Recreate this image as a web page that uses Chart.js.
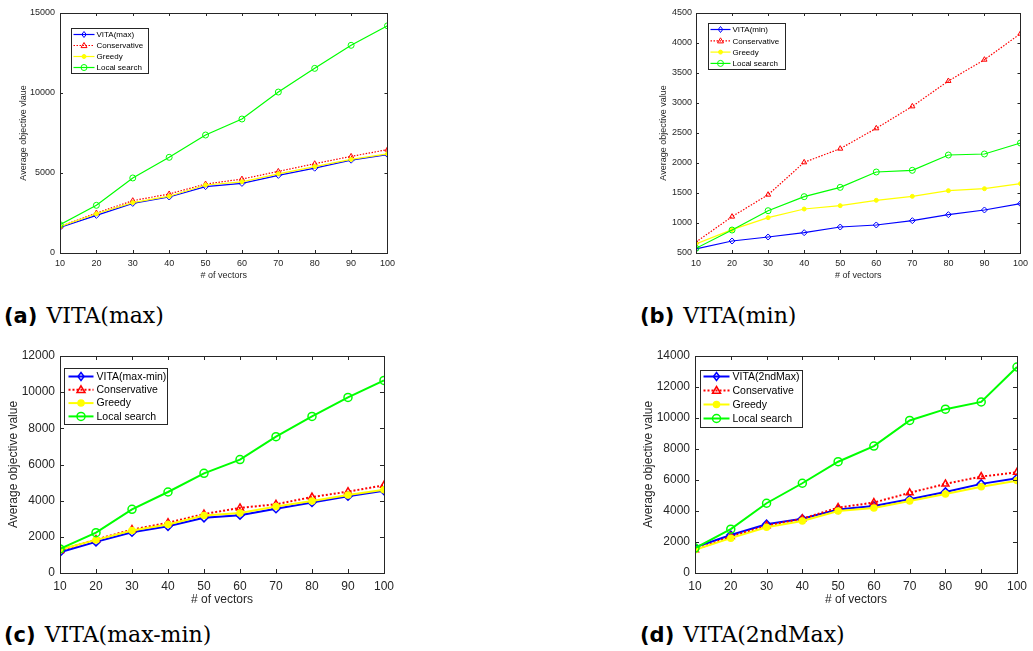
<!DOCTYPE html>
<html>
<head>
<meta charset="utf-8">
<script src="https://cdn.jsdelivr.net/npm/chart.js@4.4.1/dist/chart.umd.min.js"></script>
<style>
  body { margin: 0; background: #fff; width: 1033px; height: 651px; position: relative; overflow: hidden; }
  .panel { position: absolute; }
  .cap { position: absolute; font-family: "DejaVu Serif", serif; font-size: 22px; color: #000; white-space: nowrap; line-height: 1; }
  .cap b { font-family: "DejaVu Sans", sans-serif; font-weight: bold; font-size: 21px; margin-right: 9px; }
</style>
</head>
<body>
<div class="panel" style="left:0;top:0;width:400px;height:290px"><canvas id="chartMax"></canvas></div>
<div class="panel" style="left:630px;top:0;width:403px;height:290px"><canvas id="chartMin"></canvas></div>
<div class="panel" style="left:0;top:330px;width:400px;height:290px"><canvas id="chartMaxMin"></canvas></div>
<div class="panel" style="left:630px;top:330px;width:403px;height:290px"><canvas id="chart2ndMax"></canvas></div>
<div class="cap" style="left:4px;top:305px"><b>(a)</b>VITA(max)</div>
<div class="cap" style="left:640px;top:305px"><b>(b)</b>VITA(min)</div>
<div class="cap" style="left:4px;top:624px"><b>(c)</b>VITA(max-min)</div>
<div class="cap" style="left:640px;top:624px"><b>(d)</b>VITA(2ndMax)</div>
<script>
// numero de vectores (eje x)
const vectorCounts = [10, 20, 30, 40, 50, 60, 70, 80, 90, 100];
const seriesNames = ['Conservative', 'Greedy', 'Local search'];

// (a) VITA(max)
const maxVita         = [1600, 2350, 3100, 3500, 4150, 4350, 4850, 5300, 5800, 6150];
const maxConservative = [1650, 2500, 3270, 3690, 4310, 4620, 5100, 5580, 6040, 6460];
const maxGreedy       = [1650, 2450, 3150, 3550, 4250, 4450, 4950, 5400, 5850, 6200];
const maxLocal        = [1770, 2980, 4690, 5980, 7375, 8375, 10060, 11540, 12980, 14200];

// (b) VITA(min)
const minVita         = [570, 700, 767, 839, 933, 967, 1039, 1139, 1217, 1322];
const minConservative = [683, 1106, 1472, 2011, 2239, 2578, 2944, 3367, 3722, 4156];
const minGreedy       = [650, 889, 1089, 1233, 1289, 1378, 1444, 1539, 1572, 1656];
const minLocal        = [578, 883, 1205, 1439, 1594, 1850, 1878, 2133, 2150, 2333];

// (c) VITA(max-min)
const maxMinVita         = [1150, 1720, 2250, 2580, 3050, 3200, 3550, 3900, 4250, 4550];
const maxMinConservative = [1250, 1850, 2400, 2780, 3260, 3600, 3800, 4200, 4500, 4850];
const maxMinGreedy       = [1300, 1830, 2350, 2680, 3180, 3320, 3680, 3980, 4310, 4610];
const maxMinLocal        = [1330, 2230, 3520, 4480, 5510, 6270, 7540, 8660, 9710, 10650];

// (d) VITA(2ndMax)
const secondMaxVita         = [1650, 2450, 3150, 3500, 4100, 4330, 4760, 5230, 5750, 6110];
const secondMaxConservative = [1500, 2350, 3050, 3500, 4220, 4545, 5170, 5750, 6220, 6500];
const secondMaxGreedy       = [1500, 2250, 2950, 3350, 4000, 4200, 4650, 5100, 5570, 5960];
const secondMaxLocal        = [1610, 2830, 4500, 5790, 7180, 8190, 9840, 10570, 11040, 13290];

Chart.defaults.font.family = '"Liberation Sans", Arial, sans-serif';
Chart.defaults.color = '#262626';

const AXIS = '#262626';

function toPoints(values) {
    return vectorCounts.map((x, i) => ({ x: x, y: values[i] }));
}

// marcador propio para la leyenda
function drawMarker(ctx, style, r, x, y, stroke, fill, lw) {
    ctx.save();
    ctx.setLineDash([]);
    ctx.lineWidth = lw;
    ctx.strokeStyle = stroke;
    ctx.fillStyle = fill;
    ctx.beginPath();
    if (style === 'rectRot') {
        ctx.moveTo(x, y - r); ctx.lineTo(x + r * 0.75, y); ctx.lineTo(x, y + r); ctx.lineTo(x - r * 0.75, y); ctx.closePath();
    } else if (style === 'triangle') {
        ctx.moveTo(x, y - r); ctx.lineTo(x + r, y + r * 0.7); ctx.lineTo(x - r, y + r * 0.7); ctx.closePath();
    } else {
        ctx.arc(x, y, r, 0, Math.PI * 2);
    }
    ctx.fill();
    ctx.stroke();
    ctx.restore();
}

// caja, marcas hacia dentro y leyenda estilo MATLAB
const matlabBox = {
    id: 'matlabBox',
    afterDraw(chart, args, opts) {
        const ctx = chart.ctx;
        const a = chart.chartArea;
        const tl = opts.tickLen;
        ctx.save();
        ctx.strokeStyle = AXIS;
        ctx.lineWidth = 1;
        ctx.strokeRect(Math.round(a.left) + 0.5, Math.round(a.top) + 0.5, Math.round(a.right - a.left), Math.round(a.bottom - a.top));
        ctx.beginPath();
        const xs = chart.scales.x, ys = chart.scales.y;
        xs.ticks.forEach((t, i) => {
            const px = Math.round(xs.getPixelForTick(i)) + 0.5;
            ctx.moveTo(px, a.bottom); ctx.lineTo(px, a.bottom - tl);
            ctx.moveTo(px, a.top); ctx.lineTo(px, a.top + tl);
        });
        ys.ticks.forEach((t, i) => {
            const py = Math.round(ys.getPixelForTick(i)) + 0.5;
            ctx.moveTo(a.left, py); ctx.lineTo(a.left + tl, py);
            ctx.moveTo(a.right, py); ctx.lineTo(a.right - tl, py);
        });
        ctx.stroke();

        // leyenda
        const lg = opts.legend;
        const bx = Math.round(a.left + lg.dx) + 0.5, by = Math.round(a.top + lg.dy) + 0.5;
        ctx.fillStyle = '#fff';
        ctx.fillRect(bx, by, lg.w, lg.h);
        ctx.strokeStyle = AXIS;
        ctx.lineWidth = 1;
        ctx.strokeRect(bx, by, lg.w, lg.h);
        ctx.font = lg.fontSize + 'px "Liberation Sans", Arial, sans-serif';
        ctx.textBaseline = 'middle';
        chart.data.datasets.forEach((ds, i) => {
            const y = by + lg.row0 + i * lg.pitch;
            const x0 = bx + lg.lineX0, x1 = bx + lg.lineX1;
            ctx.save();
            ctx.strokeStyle = ds.borderColor;
            ctx.lineWidth = ds.borderWidth;
            ctx.setLineDash(ds.borderDash || []);
            ctx.beginPath();
            ctx.moveTo(x0, y); ctx.lineTo(x1, y);
            ctx.stroke();
            ctx.restore();
            drawMarker(ctx, ds.pointStyle, ds.pointRadius, (x0 + x1) / 2, y, ds.pointBorderColor, ds.pointBackgroundColor, ds.pointBorderWidth);
            ctx.fillStyle = '#000';
            ctx.fillText(ds.label, bx + lg.textX, y + 0.5);
        });
        ctx.restore();
    }
};

function buildDatasets(vitaLabel, vita, conservative, greedy, local, big) {
    const lw = big ? 2 : 1.2;
    const r = big ? 4 : 3;
    const values = [vita, conservative, greedy, local];
    const labels = [vitaLabel].concat(seriesNames);
    const colors = ['#0000ff', '#ff0000', '#ffff00', '#00ff00'];
    const styles = ['rectRot', 'triangle', 'circle', 'circle'];
    return values.map((v, i) => ({
        label: labels[i],
        data: toPoints(v),
        borderColor: colors[i],
        borderWidth: lw,
        borderDash: i === 1 ? (big ? [2, 2] : [1.5, 1.5]) : [],
        pointStyle: styles[i],
        pointRadius: i === 2 ? r - 1 : r,
        pointBorderColor: colors[i],
        pointBackgroundColor: i === 2 ? colors[i] : 'rgba(0,0,0,0)',
        pointBorderWidth: big ? 1.5 : 1,
        order: 4 - i,
        tension: 0
    }));
}

function makePanel(id, datasets, p) {
    new Chart(document.getElementById(id), {
        type: 'line',
        data: { datasets: datasets },
        options: {
            responsive: true,
            maintainAspectRatio: false,
            animation: false,
            layout: { padding: { left: p.padLeft, right: p.padRight, top: p.padTop, bottom: p.padBottom } },
            plugins: {
                legend: { display: false },
                tooltip: { enabled: false },
                matlabBox: { tickLen: p.tickLen, legend: p.legend }
            },
            scales: {
                x: {
                    type: 'linear',
                    min: 10, max: 100,
                    grid: { display: false, drawTicks: false },
                    border: { display: false },
                    ticks: { stepSize: 10, padding: p.xTickPad, font: { size: p.tickSize }, color: AXIS, maxRotation: 0,
                             callback: v => String(v) },
                    title: { display: true, text: '# of vectors', font: { size: p.titleSize }, color: AXIS, padding: 0 },
                    afterFit(s) { s.height = p.xAxisH; }
                },
                y: {
                    min: p.yMin, max: p.yMax,
                    grid: { display: false, drawTicks: false },
                    border: { display: false },
                    ticks: { stepSize: p.yStep, padding: p.yTickPad, font: { size: p.tickSize }, color: AXIS,
                             callback: v => String(v) },
                    title: { display: true, text: p.yTitle, font: { size: p.titleSize }, color: AXIS, padding: 0 },
                    afterFit(s) { s.width = p.yAxisW; }
                }
            }
        },
        plugins: [matlabBox]
    });
}

const smallLegendA = { dx: 11, dy: 15, w: 77, h: 45, row0: 6, pitch: 11, lineX0: 2, lineX1: 23, textX: 25, fontSize: 8 };
const smallLegendB = { dx: 12, dy: 10, w: 77, h: 46, row0: 6, pitch: 11.3, lineX0: 2, lineX1: 22, textX: 24, fontSize: 8 };
const bigLegendC = { dx: 4, dy: 12, w: 103, h: 56, row0: 8, pitch: 13.3, lineX0: 4, lineX1: 29, textX: 32, fontSize: 10.5 };
const bigLegendD = { dx: 5, dy: 14, w: 102, h: 57, row0: 6, pitch: 14, lineX0: 3, lineX1: 29, textX: 32, fontSize: 10.5 };

makePanel('chartMax', buildDatasets('VITA(max)', maxVita, maxConservative, maxGreedy, maxLocal, false), {
    padLeft: 18, padRight: 12, padTop: 13, padBottom: 9, yAxisW: 42, xAxisH: 28,
    yMin: 0, yMax: 15000, yStep: 5000, yTitle: 'Average objective vlaue',
    tickSize: 9, titleSize: 9, xTickPad: 5, yTickPad: 5, tickLen: 3, legend: smallLegendA
});
makePanel('chartMin', buildDatasets('VITA(min)', minVita, minConservative, minGreedy, minLocal, false), {
    padLeft: 28, padRight: 10, padTop: 13, padBottom: 9, yAxisW: 38, xAxisH: 28,
    yMin: 500, yMax: 4500, yStep: 500, yTitle: 'Average objective value',
    tickSize: 9, titleSize: 9, xTickPad: 5, yTickPad: 4, tickLen: 3, legend: smallLegendB
});
makePanel('chartMaxMin', buildDatasets('VITA(max-min)', maxMinVita, maxMinConservative, maxMinGreedy, maxMinLocal, true), {
    padLeft: 6, padRight: 12, padTop: 26, padBottom: 13, yAxisW: 54, xAxisH: 34,
    yMin: 0, yMax: 12000, yStep: 2000, yTitle: 'Average objective value',
    tickSize: 12, titleSize: 12, xTickPad: 6, yTickPad: 5, tickLen: 4, legend: bigLegendC
});
makePanel('chart2ndMax', buildDatasets('VITA(2ndMax)', secondMaxVita, secondMaxConservative, secondMaxGreedy, secondMaxLocal, true), {
    padLeft: 11, padRight: 10, padTop: 26, padBottom: 13, yAxisW: 54, xAxisH: 34,
    yMin: 0, yMax: 14000, yStep: 2000, yTitle: 'Average objective value',
    tickSize: 12, titleSize: 12, xTickPad: 6, yTickPad: 5, tickLen: 4, legend: bigLegendD
});
</script>
</body>
</html>
